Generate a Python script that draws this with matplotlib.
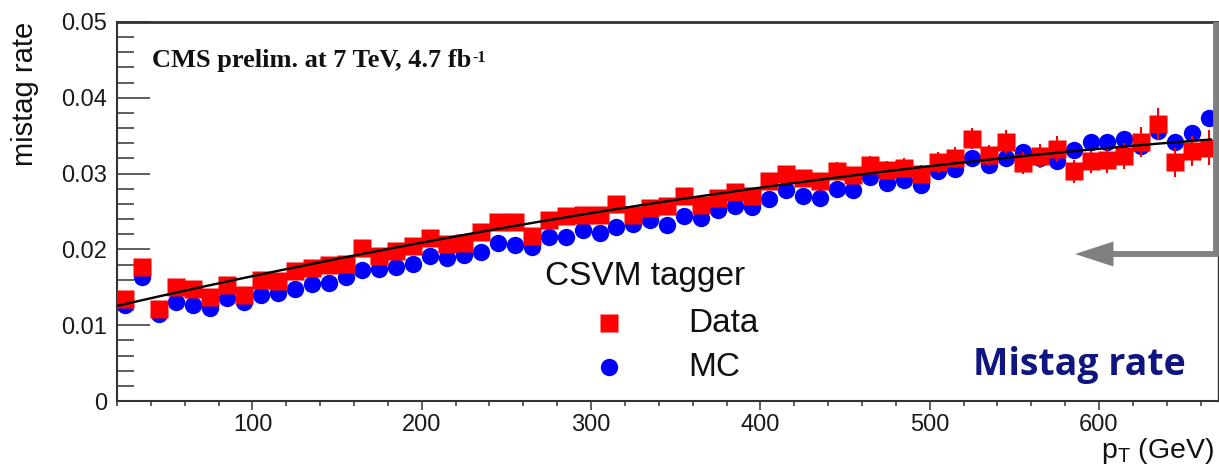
import numpy as np
import matplotlib
matplotlib.use("Agg")
import matplotlib.pyplot as plt
from matplotlib.lines import Line2D
from matplotlib.patches import Polygon
from matplotlib.ticker import MultipleLocator

# Jet pT bin centres (GeV)
pt_bins = [25, 35, 45, 55, 65, 75, 85, 95, 105, 115, 125, 135, 145, 155, 165,
           175, 185, 195, 205, 215, 225, 235, 245, 255, 265, 275, 285, 295,
           305, 315, 325, 335, 345, 355, 365, 375, 385, 395, 405, 415, 425,
           435, 445, 455, 465, 475, 485, 495, 505, 515, 525, 535, 545, 555,
           565, 575, 585, 595, 605, 615, 625, 635, 645, 655, 665]

# Measured mistag rate in data
data_rate = [0.0135, 0.0177, 0.0122, 0.0151, 0.0148, 0.0137, 0.0153, 0.0140,
             0.0160, 0.0158, 0.0172, 0.0176, 0.0180, 0.0181, 0.0202, 0.0191,
             0.0198, 0.0205, 0.0215, 0.0207, 0.0209, 0.0223, 0.0236, 0.0236,
             0.0218, 0.0239, 0.0244, 0.0246, 0.0245, 0.0260, 0.0245, 0.0255,
             0.0257, 0.0270, 0.0258, 0.0268, 0.0276, 0.0270, 0.0290, 0.0300,
             0.0294, 0.0290, 0.0304, 0.0298, 0.0311, 0.0305, 0.0308, 0.0299,
             0.0315, 0.0321, 0.0346, 0.0324, 0.0342, 0.0314, 0.0323, 0.0332,
             0.0303, 0.0317, 0.0318, 0.0323, 0.0342, 0.0365, 0.0315, 0.0330,
             0.0334]

data_err = [0.0004, 0.0004, 0.0004, 0.0004, 0.0004, 0.0004, 0.0004, 0.0004,
            0.0004, 0.0004, 0.0004, 0.0004, 0.0004, 0.0004, 0.0004, 0.0004,
            0.0004, 0.0004, 0.0005, 0.0005, 0.0005, 0.0005, 0.0005, 0.0005,
            0.0005, 0.0005, 0.0005, 0.0005, 0.0007, 0.0007, 0.0007, 0.0007,
            0.0007, 0.0007, 0.0007, 0.0007, 0.0008, 0.0008, 0.0010, 0.0010,
            0.0010, 0.0010, 0.0011, 0.0011, 0.0012, 0.0012, 0.0012, 0.0012,
            0.0014, 0.0014, 0.0014, 0.0014, 0.0016, 0.0015, 0.0016, 0.0017,
            0.0015, 0.0016, 0.0017, 0.0017, 0.0020, 0.0021, 0.0019, 0.0020,
            0.0023]

# Simulated (MC) mistag rate
mc_rate = [0.0127, 0.0164, 0.0115, 0.0131, 0.0127, 0.0123, 0.0136, 0.0130,
           0.0140, 0.0143, 0.0148, 0.0155, 0.0156, 0.0163, 0.0173, 0.0174,
           0.0177, 0.0181, 0.0191, 0.0189, 0.0192, 0.0197, 0.0209, 0.0206,
           0.0203, 0.0216, 0.0216, 0.0226, 0.0222, 0.0229, 0.0233, 0.0239,
           0.0232, 0.0244, 0.0241, 0.0252, 0.0257, 0.0256, 0.0266, 0.0278,
           0.0271, 0.0268, 0.0280, 0.0279, 0.0296, 0.0288, 0.0291, 0.0285,
           0.0303, 0.0306, 0.0321, 0.0312, 0.0321, 0.0329, 0.0320, 0.0317,
           0.0331, 0.0342, 0.0342, 0.0346, 0.0337, 0.0356, 0.0342, 0.0354,
           0.0374]

# Second-order polynomial fit to the data
fit_coeffs = [0.011516, 5.2215e-5, -2.6584e-8]
fit_range = [20, 666]

x_ticks = [100, 200, 300, 400, 500, 600]
y_ticks = [0, 0.01, 0.02, 0.03, 0.04, 0.05]
y_tick_labels = ["0", "0.01", "0.02", "0.03", "0.04", "0.05"]

y_label = "mistag rate"
x_label = r"$\mathregular{p_{T}}$ (GeV)"
cms_text = "CMS prelim. at 7 TeV, 4.7 fb"
cms_sup = "-1"
legend_title = "CSVM tagger"
legend_labels = ["Data", "MC"]
panel_title = "Mistag rate"

plt.rcParams["font.family"] = ["Liberation Sans", "DejaVu Sans"]
plt.rcParams["mathtext.fontset"] = "custom"
plt.rcParams["mathtext.rm"] = "Liberation Sans"
plt.rcParams["mathtext.it"] = "Liberation Sans:italic"

W, H = 1219, 467
fig = plt.figure(figsize=(W / 100, H / 100), dpi=100)


def fx(px):
    return px / W


def fy(py):
    return 1 - py / H


ax = fig.add_axes([fx(117), fy(401), fx(1217.5) - fx(117), fy(22) - fy(401)])
ax.set_xlim(20, 670)
ax.set_ylim(0, 0.05)

RED = "#ff0000"
BLUE = "#0000ff"
SQ_SIZE = 13.5
CIRC_SIZE = 12.5

ax.plot(pt_bins, mc_rate, "o", color=BLUE, ms=CIRC_SIZE, mec="none", zorder=2)
ax.errorbar(pt_bins, data_rate, yerr=data_err, fmt="s", color=RED, ms=SQ_SIZE,
            mec="none", elinewidth=1.5, capsize=0, zorder=3)

xf = np.linspace(fit_range[0], fit_range[1], 300)
yf = fit_coeffs[0] + fit_coeffs[1] * xf + fit_coeffs[2] * xf ** 2
ax.plot(xf, yf, color="black", lw=1.7, zorder=4)

# Axes styling
ax.set_xticks(x_ticks)
ax.set_xticklabels([str(t) for t in x_ticks])
ax.xaxis.set_minor_locator(MultipleLocator(20))
ax.set_yticks(y_ticks)
ax.set_yticklabels(y_tick_labels)
ax.yaxis.set_minor_locator(MultipleLocator(0.002))

tick_col = "#333333"
ax.tick_params(axis="y", which="major", direction="in", length=24, width=1.1,
               color=tick_col, labelsize=17, pad=7, labelcolor="#1a1a1a")
ax.tick_params(axis="y", which="minor", direction="in", length=12, width=1.1,
               color=tick_col)
ax.tick_params(axis="x", which="major", direction="out", length=6.5, width=1.1,
               color=tick_col, labelsize=17, pad=3, labelcolor="#1a1a1a")
ax.tick_params(axis="x", which="minor", direction="out", length=3.5, width=1.1,
               color=tick_col)

for side, lw in (("top", 2.0), ("left", 1.5), ("bottom", 1.5), ("right", 1.0)):
    ax.spines[side].set_linewidth(lw)
    ax.spines[side].set_color(tick_col)

# Axis titles
fig.text(fx(25), fy(22), y_label, rotation=90, ha="center", va="top",
         fontsize=21, color="#111111")
fig.text(fx(1214), fy(458), x_label, ha="right", va="baseline",
         fontsize=20.5, color="#111111")

# Experiment label
t = fig.text(fx(152), fy(66.7), cms_text, family="Liberation Serif",
             weight="bold", fontsize=19, va="baseline", color="#111111")
ax.annotate(cms_sup, xy=(1.0, 1.0), xycoords=t, xytext=(0.5, -1),
            textcoords="offset points", ha="left", va="top",
            family="Liberation Serif", weight="bold", fontsize=11.5,
            color="#111111")

# Legend
fig.text(fx(545), fy(277), legend_title, ha="left", va="center",
         fontsize=24, color="#111111")
fig.add_artist(Line2D([fx(609)], [fy(323)], marker="s", ms=SQ_SIZE, color=RED,
                      mec="none", transform=fig.transFigure))
fig.add_artist(Line2D([fx(609)], [fy(367)], marker="o", ms=CIRC_SIZE,
                      color=BLUE, mec="none", transform=fig.transFigure))
fig.text(fx(688), fy(323), legend_labels[0], ha="left", va="center",
         fontsize=24, color="#111111")
fig.text(fx(688), fy(367), legend_labels[1], ha="left", va="center",
         fontsize=24, color="#111111")

# Panel annotation and grey elbow arrow
fig.text(fx(973), fy(375), panel_title, family="Open Sans", weight="bold",
         fontsize=27, color="#10157f", va="baseline")
GREY = "#808080"
fig.add_artist(Line2D([fx(1216), fx(1216), fx(1110)],
                      [fy(22), fy(254), fy(254)], color=GREY, lw=4.2,
                      solid_joinstyle="miter", solid_capstyle="butt",
                      transform=fig.transFigure))
fig.add_artist(Polygon([[fx(1113.5), fy(241.5)], [fx(1075), fy(254)],
                        [fx(1113.5), fy(266.5)]], closed=True,
                       facecolor=GREY, edgecolor="none",
                       transform=fig.transFigure))

fig.savefig("out.png", dpi=100)
